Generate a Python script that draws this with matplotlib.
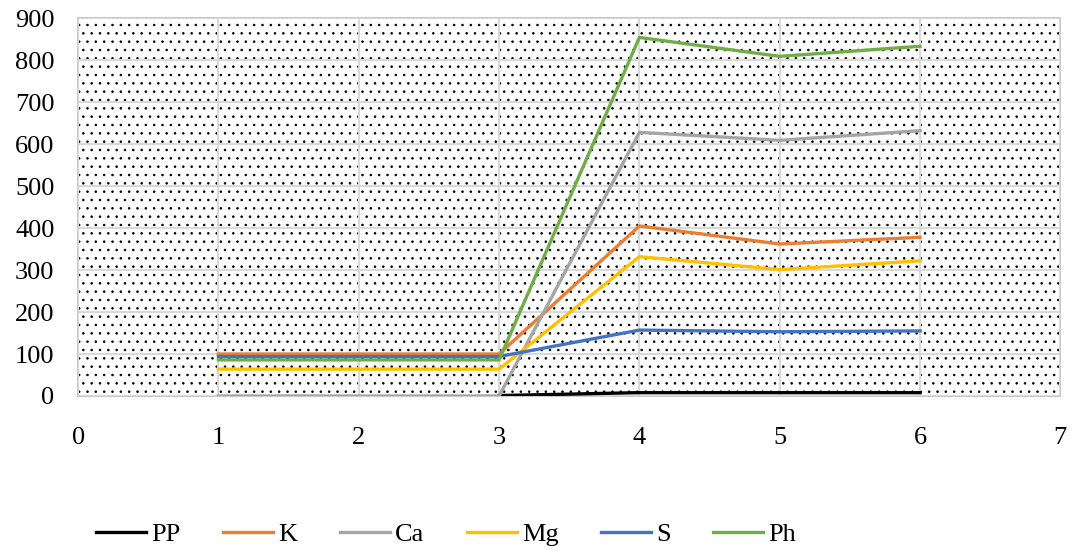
import matplotlib
matplotlib.use("Agg")
import matplotlib.pyplot as plt
import numpy as np

plt.rcParams['font.family'] = ['Liberation Serif', 'DejaVu Serif']
plt.rcParams['hatch.linewidth'] = 0.6

x = [1, 2, 3, 4, 5, 6]
series_names = ["PP", "K", "Ca", "Mg", "S", "Ph"]
PP = [np.nan, np.nan, 1, 8, 8, 8]
K = [100, 100, 100, 405, 362, 378]
Ca = [0, 0, 0, 628, 609, 632]
Mg = [64, 64, 64, 332, 301, 322]
S = [94, 94, 94, 157, 153, 155]
Ph = [86, 86, 86, 854, 809, 833]
colors = ["#000000", "#ED7D31", "#A5A5A5", "#FFC000", "#4472C4", "#70AD47"]
x_ticks = [0, 1, 2, 3, 4, 5, 6, 7]
y_ticks = [0, 100, 200, 300, 400, 500, 600, 700, 800, 900]

fig = plt.figure(figsize=(10.7, 5.5), dpi=100)
ax = fig.add_axes([0.073, 0.280, 0.918, 0.687])
ax.set_xlim(0, 7)
ax.set_ylim(0, 900)

# dotted background pattern
ax.add_patch(plt.Rectangle((0, 0), 1, 1, transform=ax.transAxes, facecolor='white',
                           edgecolor='#000000', hatch='..', linewidth=0, zorder=0))

ax.set_xticks(x_ticks)
ax.set_yticks(y_ticks)
ax.grid(True, color='#D9D9D9', linewidth=1.5, zorder=1)
ax.set_axisbelow(False)
for s in ax.spines.values():
    s.set_color('#BFBFBF')
    s.set_linewidth(1.2)
ax.tick_params(axis='y', length=0, labelsize=19, pad=17)
ax.tick_params(axis='x', length=0, labelsize=19, pad=22)

for name, vals, c in zip(series_names, [PP, K, Ca, Mg, S, Ph], colors):
    ax.plot(x, vals, color=c, linewidth=2.4, label=name, zorder=3,
            solid_joinstyle='miter')

fig.legend(loc='center', bbox_to_anchor=(0.417, 0.029), ncol=6, frameon=False,
           fontsize=19, handlelength=1.9, columnspacing=1.6, handletextpad=0.2)

fig.savefig("out.png", dpi=100)
